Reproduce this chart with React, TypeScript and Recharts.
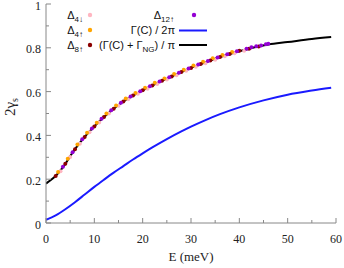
import { ComposedChart, Line, Scatter, XAxis, YAxis } from "recharts";

// black curve: (Γ(C) + Γ_NG) / π
const fullCurve = [
  { E: 0, v: 0.18 }, { E: 1, v: 0.196 }, { E: 2, v: 0.215 }, { E: 3, v: 0.24 },
  { E: 4, v: 0.27 }, { E: 5, v: 0.305 }, { E: 6, v: 0.337 }, { E: 8, v: 0.393 },
  { E: 10, v: 0.441 }, { E: 12, v: 0.484 }, { E: 14, v: 0.522 }, { E: 16, v: 0.555 },
  { E: 18, v: 0.582 }, { E: 20, v: 0.606 }, { E: 23, v: 0.639 }, { E: 26, v: 0.669 },
  { E: 30, v: 0.708 }, { E: 34, v: 0.742 }, { E: 38, v: 0.772 }, { E: 42, v: 0.796 },
  { E: 46, v: 0.815 }, { E: 50, v: 0.826 }, { E: 55, v: 0.84 }, { E: 59, v: 0.849 },
];

// blue curve: Γ(C) / 2π
const halfCurve = [
  { E: 0, v: 0.015 }, { E: 2, v: 0.035 }, { E: 4, v: 0.063 }, { E: 6, v: 0.095 },
  { E: 8, v: 0.13 }, { E: 10, v: 0.165 }, { E: 12, v: 0.198 }, { E: 14, v: 0.23 },
  { E: 16, v: 0.26 }, { E: 18, v: 0.29 }, { E: 20, v: 0.318 }, { E: 22, v: 0.345 },
  { E: 25, v: 0.383 }, { E: 28, v: 0.418 }, { E: 30, v: 0.44 }, { E: 33, v: 0.47 },
  { E: 36, v: 0.497 }, { E: 40, v: 0.528 }, { E: 45, v: 0.56 }, { E: 50, v: 0.586 },
  { E: 55, v: 0.605 }, { E: 59, v: 0.618 },
];

const delta4down = [
  { E: 3, v: 0.236 }, { E: 5, v: 0.301 }, { E: 7, v: 0.362 }, { E: 9, v: 0.414 },
  { E: 11, v: 0.459 }, { E: 13, v: 0.5 }, { E: 15, v: 0.535 }, { E: 17, v: 0.565 },
  { E: 19, v: 0.59 }, { E: 21, v: 0.613 }, { E: 23, v: 0.635 }, { E: 25, v: 0.655 },
  { E: 27, v: 0.675 }, { E: 29, v: 0.695 }, { E: 31, v: 0.713 }, { E: 33, v: 0.73 },
  { E: 35, v: 0.746 }, { E: 37, v: 0.761 }, { E: 39, v: 0.775 }, { E: 41, v: 0.787 },
];

const delta4up = [
  { E: 2.5, v: 0.233 }, { E: 4.5, v: 0.293 }, { E: 6.5, v: 0.358 }, { E: 8.5, v: 0.412 },
  { E: 10.5, v: 0.458 }, { E: 12.5, v: 0.5 }, { E: 14.5, v: 0.537 }, { E: 16.5, v: 0.568 },
  { E: 18.5, v: 0.594 }, { E: 20.5, v: 0.618 }, { E: 22.5, v: 0.64 }, { E: 24.5, v: 0.66 },
  { E: 26.5, v: 0.68 }, { E: 28.5, v: 0.7 }, { E: 30.5, v: 0.719 }, { E: 32.5, v: 0.736 },
  { E: 34.5, v: 0.752 }, { E: 36.5, v: 0.767 }, { E: 38.5, v: 0.781 },
];

const delta8up = [
  { E: 2, v: 0.215 }, { E: 4, v: 0.27 }, { E: 6, v: 0.337 }, { E: 8, v: 0.393 },
  { E: 10, v: 0.441 }, { E: 12, v: 0.484 }, { E: 14, v: 0.522 }, { E: 16, v: 0.555 },
  { E: 18, v: 0.582 }, { E: 20, v: 0.606 }, { E: 22, v: 0.628 }, { E: 24, v: 0.649 },
  { E: 26, v: 0.669 }, { E: 28, v: 0.689 }, { E: 30, v: 0.708 }, { E: 32, v: 0.726 },
  { E: 34, v: 0.742 }, { E: 36, v: 0.758 }, { E: 38, v: 0.772 }, { E: 40, v: 0.786 },
  { E: 42, v: 0.796 }, { E: 44, v: 0.806 },
];

const delta12up = [
  { E: 3.5, v: 0.257 }, { E: 5.5, v: 0.323 }, { E: 7.5, v: 0.382 }, { E: 9.5, v: 0.432 },
  { E: 11.5, v: 0.476 }, { E: 13.5, v: 0.515 }, { E: 15.5, v: 0.549 }, { E: 17.5, v: 0.578 },
  { E: 19.5, v: 0.602 }, { E: 21.5, v: 0.625 }, { E: 23.5, v: 0.646 }, { E: 25.5, v: 0.666 },
  { E: 27.5, v: 0.686 }, { E: 29.5, v: 0.706 }, { E: 31.5, v: 0.724 }, { E: 33.5, v: 0.74 },
  { E: 35.5, v: 0.756 }, { E: 37.5, v: 0.77 }, { E: 39.5, v: 0.784 }, { E: 41.5, v: 0.796 },
  { E: 42.5, v: 0.802 }, { E: 43.5, v: 0.807 }, { E: 44.5, v: 0.811 }, { E: 45.5, v: 0.816 },
  { E: 46, v: 0.818 },
];

const xTicks = [0, 5, 10, 15, 20, 25, 30, 35, 40, 45, 50, 55, 60];
const xLabels = [0, 10, 20, 30, 40, 50, 60];
const yTicks = [0, 0.1, 0.2, 0.3, 0.4, 0.5, 0.6, 0.7, 0.8, 0.9, 1];
const yLabels = [0, 0.2, 0.4, 0.6, 0.8, 1];

const BORDER = "#888";
const TICK_FONT = "'Liberation Serif', serif";
const MARGIN = 6;

const isMajor = (list: number[], v: number) => list.some((l) => Math.abs(l - v) < 1e-6);

function BottomTick(props: any) {
  const { x, y, payload } = props;
  const axisY = y - MARGIN;
  const major = isMajor(xLabels, payload.value);
  return (
    <g>
      <line x1={x} x2={x} y1={axisY} y2={axisY - (major ? 5 : 3)} stroke={BORDER} />
      {major && (
        <text x={x} y={axisY + 20} textAnchor="middle" fontFamily={TICK_FONT} fontSize={12} fill="#222">
          {payload.value}
        </text>
      )}
    </g>
  );
}

function TopTick(props: any) {
  const { x, y, payload } = props;
  const axisY = y + MARGIN;
  const major = isMajor(xLabels, payload.value);
  return <line x1={x} x2={x} y1={axisY} y2={axisY + (major ? 5 : 3)} stroke={BORDER} />;
}

function LeftTick(props: any) {
  const { x, y, payload } = props;
  const axisX = x + MARGIN;
  const major = isMajor(yLabels, payload.value);
  return (
    <g>
      <line x1={axisX} x2={axisX + (major ? 5 : 3)} y1={y} y2={y} stroke={BORDER} />
      {major && (
        <text x={axisX - 5} y={y + 5.5} textAnchor="end" fontFamily={TICK_FONT} fontSize={12} fill="#222">
          {payload.value}
        </text>
      )}
    </g>
  );
}

function RightTick(props: any) {
  const { x, y, payload } = props;
  const axisX = x - MARGIN;
  const major = isMajor(yLabels, payload.value);
  return <line x1={axisX} x2={axisX - (major ? 5 : 3)} y1={y} y2={y} stroke={BORDER} />;
}

const dot = (color: string) => (p: any) => <circle cx={p.cx} cy={p.cy} r={2} fill={color} />;

function Overlay() {
  const sans = "'Liberation Sans', sans-serif";
  return (
    <svg width={344} height={268} style={{ position: "absolute", left: 0, top: 0, pointerEvents: "none" }}>
      <g fontFamily={sans} fontSize={11} fill="#111" textAnchor="end">
        <text x={83} y={19}>Δ<tspan dy={3} fontSize={8}>4↓</tspan></text>
        <text x={83} y={34}>Δ<tspan dy={3} fontSize={8}>4↑</tspan></text>
        <text x={83} y={49}>Δ<tspan dy={3} fontSize={8}>8↑</tspan></text>
        <text x={174} y={19}>Δ<tspan dy={3} fontSize={8}>12↑</tspan></text>
        <text x={175} y={34}>Γ(C) / 2π</text>
        <text x={175} y={49}>(Γ(C) + Γ<tspan dy={3} fontSize={8}>NG</tspan><tspan dy={-3}>) / π</tspan></text>
      </g>
      <circle cx={90} cy={15} r={2.2} fill="#ffb6c1" />
      <circle cx={90} cy={30} r={2.2} fill="#ffa500" />
      <circle cx={90} cy={45} r={2.2} fill="#8b0000" />
      <circle cx={194} cy={15} r={2.2} fill="#9400d3" />
      <line x1={179} x2={207} y1={30.5} y2={30.5} stroke="#1a1aff" strokeWidth={2} />
      <line x1={179} x2={207} y1={45} y2={45} stroke="#000" strokeWidth={2} />
      <text x={191} y={261} textAnchor="middle" fontFamily={TICK_FONT} fontSize={13} fill="#222">E (meV)</text>
      <text transform="translate(15,107) rotate(-90)" textAnchor="middle" fontFamily={TICK_FONT} fontSize={15} fill="#222">
        2γ<tspan dy={3} fontSize={10}>s</tspan>
      </text>
    </svg>
  );
}

export default function App() {
  return (
    <div style={{ position: "absolute", left: 0, top: 0, width: 344, height: 268, background: "#fff" }}>
      <ComposedChart width={344} height={268} margin={{ top: 4, right: 8, bottom: 0, left: 0 }}>
        <XAxis
          xAxisId="b"
          type="number"
          dataKey="E"
          domain={[0, 60]}
          ticks={xTicks}
          interval={0}
          height={45}
          stroke={BORDER}
          tickLine={false}
          tickSize={0}
          tickMargin={MARGIN}
          tick={<BottomTick />}
          allowDataOverflow
        />
        <XAxis
          xAxisId="t"
          orientation="top"
          type="number"
          dataKey="E"
          domain={[0, 60]}
          ticks={xTicks}
          interval={0}
          height={0}
          stroke={BORDER}
          tickLine={false}
          tickSize={0}
          tickMargin={MARGIN}
          tick={<TopTick />}
        />
        <YAxis
          yAxisId="l"
          type="number"
          domain={[0, 1]}
          ticks={yTicks}
          interval={0}
          width={46}
          stroke={BORDER}
          tickLine={false}
          tickSize={0}
          tickMargin={MARGIN}
          tick={<LeftTick />}
          allowDataOverflow
        />
        <YAxis
          yAxisId="r"
          orientation="right"
          type="number"
          domain={[0, 1]}
          ticks={yTicks}
          interval={0}
          width={0}
          stroke={BORDER}
          tickLine={false}
          tickSize={0}
          tickMargin={MARGIN}
          tick={<RightTick />}
        />
        <Scatter xAxisId="b" yAxisId="l" data={delta4down} dataKey="v" shape={dot("#ffb6c1")} isAnimationActive={false} />
        <Scatter xAxisId="b" yAxisId="l" data={delta4up} dataKey="v" shape={dot("#ffa500")} isAnimationActive={false} />
        <Scatter xAxisId="b" yAxisId="l" data={delta8up} dataKey="v" shape={dot("#8b0000")} isAnimationActive={false} />
        <Scatter xAxisId="b" yAxisId="l" data={delta12up} dataKey="v" shape={dot("#9400d3")} isAnimationActive={false} />
        <Line xAxisId="b" yAxisId="l" data={halfCurve} dataKey="v" type="monotone" stroke="#1a1aff" strokeWidth={2} dot={false} isAnimationActive={false} />
        <Line xAxisId="b" yAxisId="l" data={fullCurve} dataKey="v" type="monotone" stroke="#000" strokeWidth={2} dot={false} isAnimationActive={false} />
      </ComposedChart>
      <Overlay />
    </div>
  );
}
